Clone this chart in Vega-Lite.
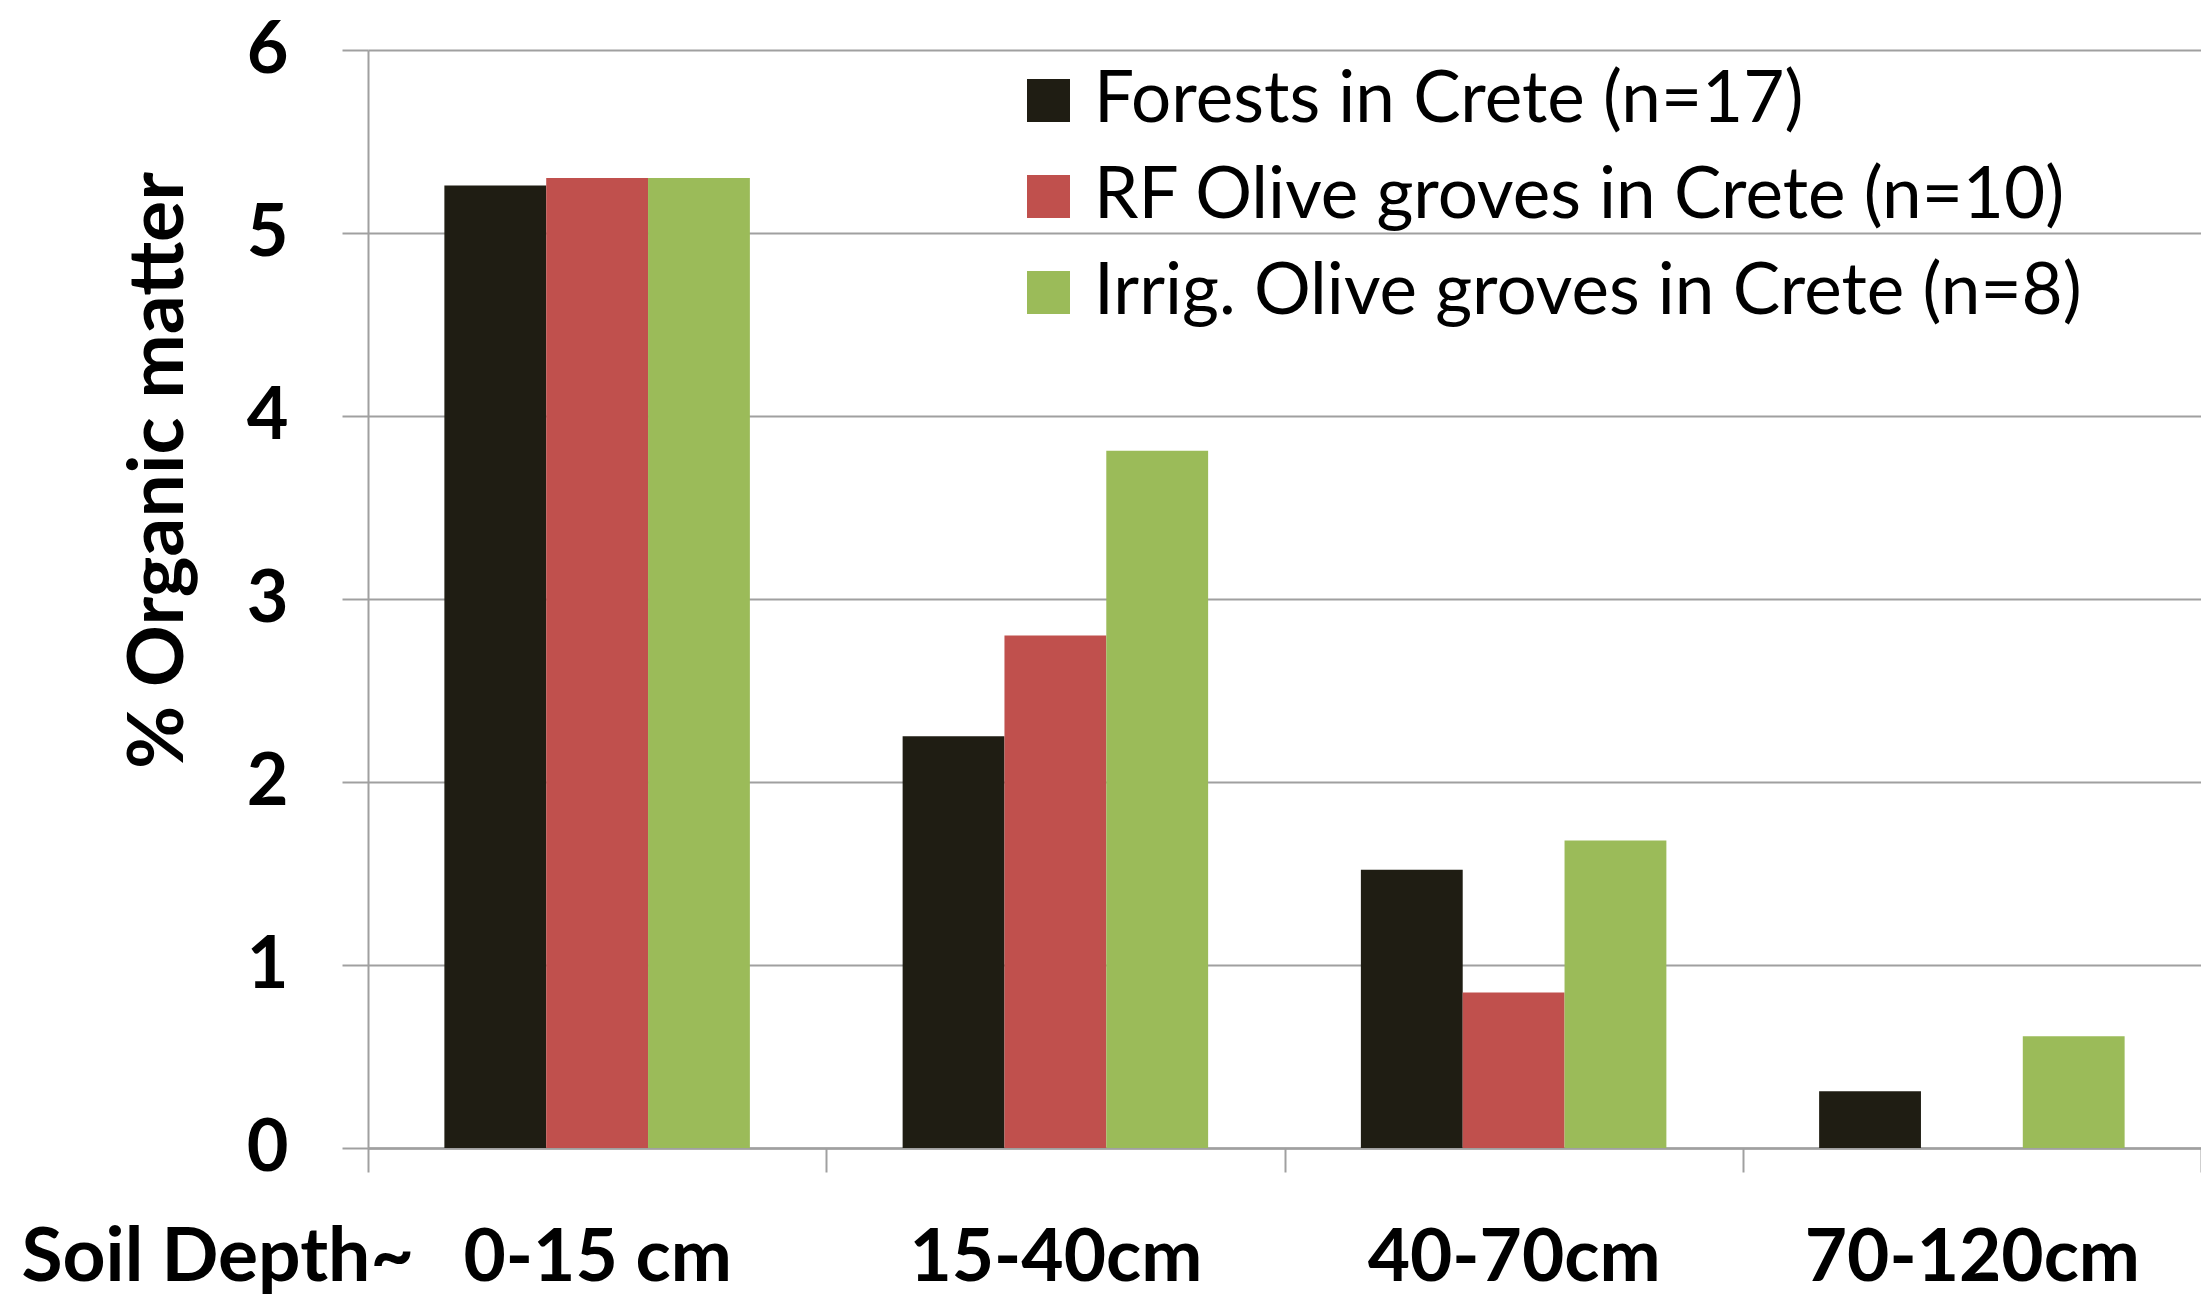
{
  "$schema": "https://vega.github.io/schema/vega-lite/v6.json",
  "autosize": {"type": "none"},
  "padding": {"left": 368, "top": 50, "right": 0, "bottom": 149},
  "width": 1833,
  "height": 1098,
  "background": "white",
  "config": {
    "view": {"stroke": null},
    "font": "Lato"
  },
  "data": {
    "values": [
      {"depth": "0-15 cm", "series": "Forests in Crete (n=17)", "value": 5.26},
      {"depth": "0-15 cm", "series": "RF Olive groves in Crete (n=10)", "value": 5.30},
      {"depth": "0-15 cm", "series": "Irrig. Olive groves in Crete (n=8)", "value": 5.30},
      {"depth": "15-40cm", "series": "Forests in Crete (n=17)", "value": 2.25},
      {"depth": "15-40cm", "series": "RF Olive groves in Crete (n=10)", "value": 2.80},
      {"depth": "15-40cm", "series": "Irrig. Olive groves in Crete (n=8)", "value": 3.81},
      {"depth": "40-70cm", "series": "Forests in Crete (n=17)", "value": 1.52},
      {"depth": "40-70cm", "series": "RF Olive groves in Crete (n=10)", "value": 0.85},
      {"depth": "40-70cm", "series": "Irrig. Olive groves in Crete (n=8)", "value": 1.68},
      {"depth": "70-120cm", "series": "Forests in Crete (n=17)", "value": 0.31},
      {"depth": "70-120cm", "series": "RF Olive groves in Crete (n=10)", "value": 0},
      {"depth": "70-120cm", "series": "Irrig. Olive groves in Crete (n=8)", "value": 0.61}
    ]
  },
  "mark": {"type": "bar"},
  "encoding": {
    "x": {
      "field": "depth",
      "type": "nominal",
      "sort": ["0-15 cm", "15-40cm", "40-70cm", "70-120cm"],
      "scale": {"paddingInner": 0, "paddingOuter": 0},
      "axis": {
        "title": "Soil Depth~",
        "titleFont": "Lato",
        "titleFontSize": 75,
        "titleFontWeight": "bold",
        "titleColor": "black",
        "titleAlign": "left",
        "titleBaseline": "alphabetic",
        "titleAngle": 0,
        "titleX": -347,
        "titleY": 132,
        "labelAngle": 0,
        "labelFont": "Lato",
        "labelFontSize": 73,
        "labelFontWeight": "bold",
        "labelColor": "black",
        "labelBaseline": "alphabetic",
        "labelPadding": 108,
        "labelLimit": 0,
        "tickBand": "extent",
        "ticks": true,
        "tickSize": 24,
        "tickColor": "#a0a0a0",
        "tickWidth": 2,
        "domain": true,
        "domainColor": "#a0a0a0",
        "domainWidth": 2.5,
        "grid": false
      }
    },
    "xOffset": {
      "field": "series",
      "type": "nominal",
      "sort": ["Forests in Crete (n=17)", "RF Olive groves in Crete (n=10)", "Irrig. Olive groves in Crete (n=8)"],
      "scale": {"paddingInner": 0, "paddingOuter": 0.75}
    },
    "y": {
      "field": "value",
      "type": "quantitative",
      "scale": {"domain": [0, 6], "nice": false},
      "axis": {
        "title": "% Organic matter",
        "titleFont": "Lato",
        "titleFontSize": 77,
        "titleFontWeight": "bold",
        "titleColor": "black",
        "titleAngle": -90,
        "titleAlign": "center",
        "titleBaseline": "middle",
        "titleX": -209,
        "titleY": 420,
        "values": [0, 1, 2, 3, 4, 5, 6],
        "format": "d",
        "labelFont": "Lato",
        "labelFontSize": 72,
        "labelFontWeight": "bold",
        "labelColor": "black",
        "labelPadding": 54,
        "labelLimit": 0,
        "ticks": true,
        "tickSize": 26,
        "tickColor": "#a0a0a0",
        "tickWidth": 2,
        "domain": true,
        "domainColor": "#a0a0a0",
        "domainWidth": 2,
        "grid": true,
        "gridColor": "#a0a0a0",
        "gridWidth": 2,
        "gridOpacity": 1
      }
    },
    "color": {
      "field": "series",
      "type": "nominal",
      "sort": ["Forests in Crete (n=17)", "RF Olive groves in Crete (n=10)", "Irrig. Olive groves in Crete (n=8)"],
      "scale": {
        "domain": ["Forests in Crete (n=17)", "RF Olive groves in Crete (n=10)", "Irrig. Olive groves in Crete (n=8)"],
        "range": ["#1f1d13", "#c0504d", "#9bbb59"]
      },
      "legend": {
        "title": null,
        "orient": "none",
        "legendX": 645,
        "legendY": 15,
        "padding": 0,
        "symbolType": "square",
        "symbolSize": 1849,
        "symbolStrokeWidth": 0,
        "symbolOpacity": 1,
        "labelFont": "Lato",
        "labelFontSize": 71,
        "labelColor": "black",
        "labelOffset": 10,
        "labelLimit": 0,
        "rowPadding": 24
      }
    }
  }
}
